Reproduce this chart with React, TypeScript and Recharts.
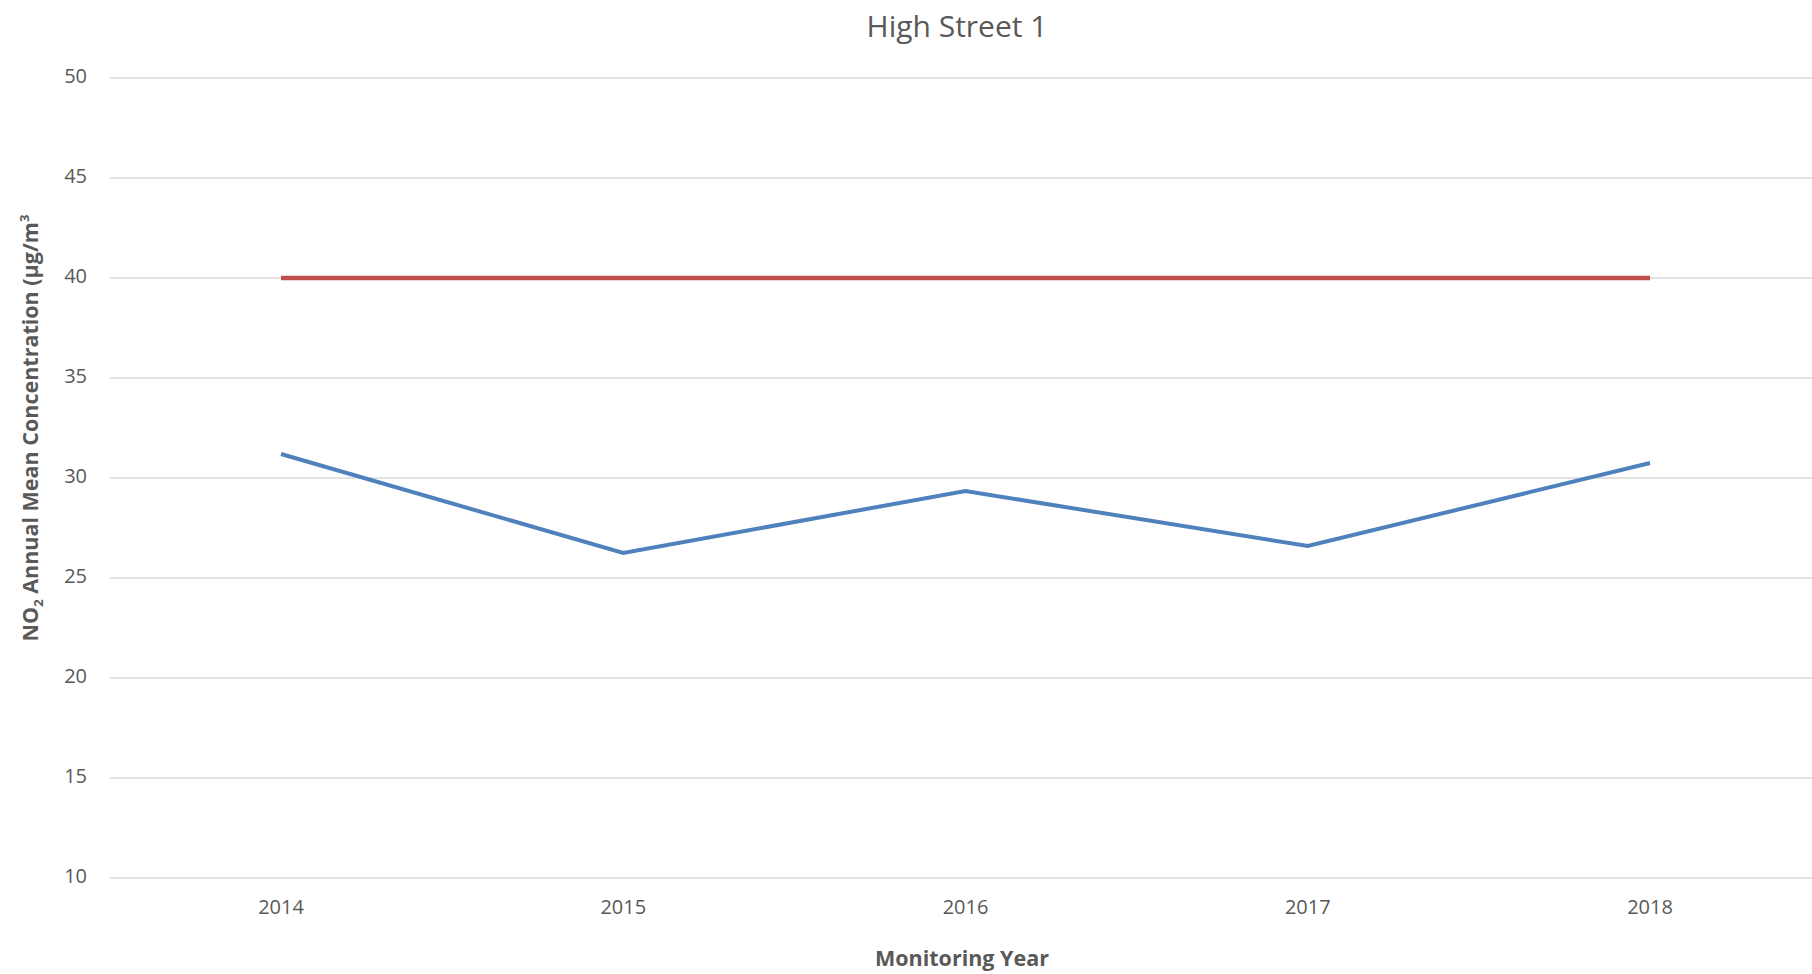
import React from 'react';
import { LineChart, Line, XAxis, YAxis, CartesianGrid } from 'recharts';

const years = ['2014', '2015', '2016', '2017', '2018'];
const annualMean = [31.2, 26.25, 29.35, 26.6, 30.75];
const objective = [40, 40, 40, 40, 40];
const yTicks = [10, 15, 20, 25, 30, 35, 40, 45, 50];

const data = years.map((year, i) => ({
    year,
    mean: annualMean[i],
    limit: objective[i],
}));

const FONT = '"Open Sans", "DejaVu Sans", sans-serif';
const GREY = '#595959';

const YearTick = (props: any) => {
    const { x, y, payload } = props;
    return (
        <text x={x} y={y + 23} textAnchor="middle" dominantBaseline="middle"
            fontFamily={FONT} fontSize={20} fill={GREY}>
            {payload.value}
        </text>
    );
};

const ValueTick = (props: any) => {
    const { y, payload } = props;
    return (
        <text x={87} y={y} textAnchor="end" dominantBaseline="middle"
            fontFamily={FONT} fontSize={20} fill={GREY}>
            {payload.value}
        </text>
    );
};

// rotated axis title with NO2 subscript and m3 superscript
const ConcentrationLabel = () => (
    <text x={0} y={0} transform="translate(38, 428) rotate(-90)" textAnchor="middle"
        fontFamily={FONT} fontSize={21.5} fontWeight="bold" fill={GREY}>
        NO<tspan fontSize={13} dy={5}>2</tspan>
        <tspan dy={-5}> Annual Mean Concentration (μg/m</tspan>
        <tspan fontSize={13} dy={-9}>3</tspan>
    </text>
);

const YearLabel = () => (
    <text x={962} y={960} textAnchor="middle" dominantBaseline="middle"
        fontFamily={FONT} fontSize={21.5} fontWeight="bold" fill={GREY}>
        Monitoring Year
    </text>
);

export default function App() {
    return (
        <div style={{ position: 'absolute', left: 0, top: 0, width: 1812, height: 974, overflow: 'hidden', background: '#fff' }}>
            <div style={{
                position: 'absolute', top: 3, left: 957, transform: 'translateX(-50%)',
                fontFamily: FONT, fontSize: 30, color: GREY, whiteSpace: 'nowrap', lineHeight: '46px',
            }}>
                High Street 1
            </div>
            <LineChart width={1825} height={974} data={data}
                margin={{ top: 78, right: 4, left: 0, bottom: 0 }}>
                <CartesianGrid vertical={false} stroke="#d9d9d9" strokeWidth={1.5} />
                <XAxis dataKey="year" height={96} axisLine={false} tickLine={false}
                    padding={{ left: 171, right: 171 }}
                    tick={YearTick} label={{ content: YearLabel }} />
                <YAxis width={110} domain={[10, 50]} ticks={yTicks} axisLine={false}
                    tickLine={false} tick={ValueTick} label={{ content: ConcentrationLabel }} />
                <Line type="linear" dataKey="limit" stroke="#c0504d" strokeWidth={4.5}
                    dot={false} isAnimationActive={false} />
                <Line type="linear" dataKey="mean" stroke="#4f81bd" strokeWidth={4}
                    dot={false} isAnimationActive={false} />
            </LineChart>
        </div>
    );
}
